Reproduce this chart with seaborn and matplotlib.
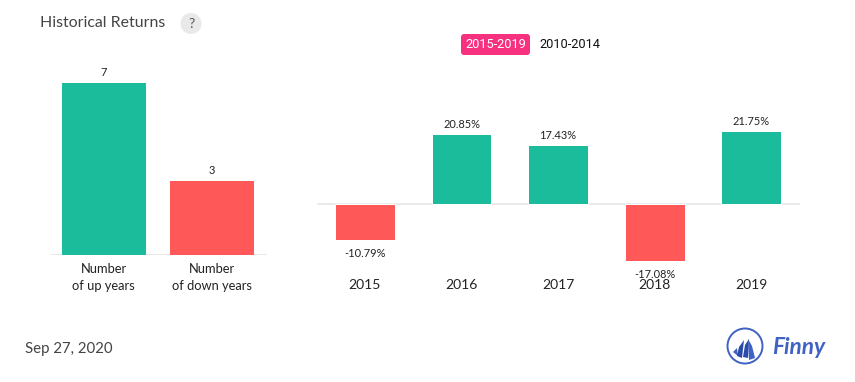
import matplotlib
matplotlib.use("Agg")
import matplotlib.pyplot as plt
from matplotlib.patches import Circle, FancyBboxPatch, Polygon
import pandas as pd
import seaborn as sns

count_labels = ["Number\nof up years", "Number\nof down years"]
count_values = [7, 3]
years = ["2015", "2016", "2017", "2018", "2019"]
returns = [-10.79, 20.85, 17.43, -17.08, 21.75]
title = "Historical Returns"
date_text = "Sep 27, 2020"
range_active = "2015-2019"
range_other = "2010-2014"
brand = "Finny"

GREEN = "#1abc9c"
RED = "#ff5858"
W, H = 855, 382

sns.set_style("white")
plt.rcParams["font.family"] = ["Lato", "DejaVu Sans"]
fig = plt.figure(figsize=(W / 100, H / 100), dpi=100, facecolor="white")


def add_axes(x0, x1, top, bottom):
    return fig.add_axes([x0 / W, 1 - bottom / H, (x1 - x0) / W, (bottom - top) / H])


def style(ax, pad, size, linespacing=1.2):
    for s in ax.spines.values():
        s.set_visible(False)
    ax.set_xlabel("")
    ax.set_ylabel("")
    ax.set_yticks([])
    ax.patch.set_alpha(0)
    ax.axhline(0, xmin=0.003, xmax=1.0, color="#e8e8e8", lw=1.3, zorder=0.5)
    ax.tick_params(axis="x", length=0, pad=pad, labelsize=size, labelcolor="#222222")
    for t in ax.get_xticklabels():
        t.set_linespacing(linespacing)
    for p in ax.patches:
        p.set_clip_on(False)
        p.set_zorder(2)


# left panel
left = pd.DataFrame({"label": count_labels, "value": count_values})
left["kind"] = ["up", "down"]
ax1 = add_axes(49.5, 266.5, 82.7, 255)
sns.barplot(data=left, x="label", y="value", hue="kind", dodge=False, width=0.775,
            palette={"up": GREEN, "down": RED}, saturation=1, edgecolor="none",
            legend=False, ax=ax1, errorbar=None)
ax1.set_ylim(0, max(count_values))
style(ax1, 6, 9.3, 1.42)
for i, v in enumerate(count_values):
    ax1.annotate(str(v), (i, v), xytext=(0, 3.5), textcoords="offset points",
                 ha="center", va="bottom", fontsize=8, color="#222222")

# right panel
right = pd.DataFrame({"year": years, "ret": returns})
right["kind"] = ["up" if r >= 0 else "down" for r in returns]
ax2 = add_axes(316.6, 799.6, 131.0, 261)
sns.barplot(data=right, x="year", y="ret", hue="kind", dodge=False, width=0.62,
            palette={"up": GREEN, "down": RED}, saturation=1, edgecolor="white",
            linewidth=0.72, legend=False, ax=ax2, errorbar=None)
ax2.set_ylim(min(returns), max(returns))
style(ax2, 13, 10)
for i, r in enumerate(returns):
    up = r >= 0
    ax2.annotate(f"{r:.2f}%", (i, r), xytext=(0, 3.0 if up else -5.5),
                 textcoords="offset points", ha="center",
                 va="bottom" if up else "top", fontsize=7.9, color="#222222", zorder=5)

# overlay in pixel coordinates for page furniture
ov = fig.add_axes([0, 0, 1, 1], zorder=-1)
ov.set_xlim(0, W)
ov.set_ylim(H, 0)
ov.axis("off")
ov.text(40, 23, title, fontsize=11.4, color="#444444", va="center", ha="left")
ov.add_patch(Circle((191, 23.5), 10.5, color="#e9e9e9", lw=0))
ov.text(191, 23.5, "?", fontsize=10, color="#555555", va="center", ha="center")
ov.add_patch(FancyBboxPatch((463, 36), 65, 17, boxstyle="round,pad=2,rounding_size=3",
                            fc="#f7317f", ec="none"))
ov.text(496, 44.5, range_active, fontsize=9.2, color="white", va="center", ha="center",
        family="Roboto")
ov.text(570, 44.5, range_other, fontsize=9.2, color="#111111", va="center", ha="center",
        family="Roboto")
ov.text(25, 349, date_text, fontsize=10.8, color="#444444", va="center", ha="left")

# logo
BLUE = "#3f62c4"
DARK = "#2a4ba8"
ov.add_patch(Circle((745, 346), 17.5, fc="none", ec=BLUE, lw=1.4))
ov.add_patch(Polygon([(733, 352), (737, 348), (738, 356)], fc=BLUE, ec="none"))
ov.add_patch(Polygon([(737, 356), (739, 347), (744, 340), (742, 358)], fc=DARK, ec="none"))
ov.add_patch(Polygon([(743, 357), (745, 345), (749, 339), (748, 358)], fc=DARK, ec="none"))
ov.add_patch(Polygon([(748, 339), (752, 346), (755, 358), (749, 360)], fc=BLUE, ec="none"))
ov.text(772, 347, brand, fontsize=16.3, color=BLUE, va="center", ha="left",
        family="Lato", style="italic", weight="bold")

fig.savefig("out.png", dpi=100, facecolor="white")
